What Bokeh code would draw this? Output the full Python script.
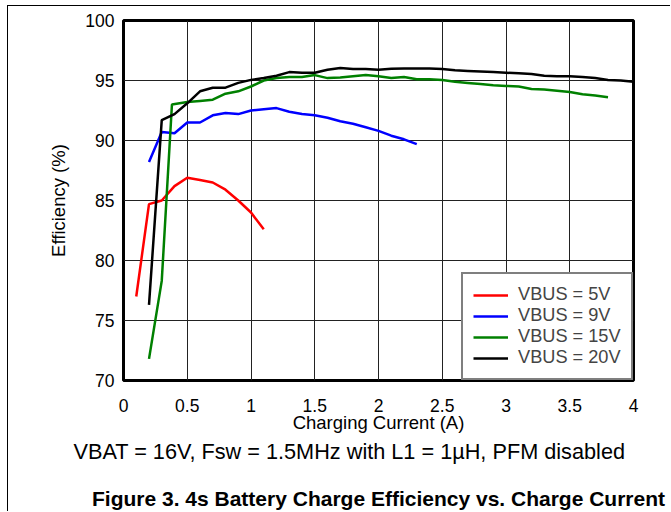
from bokeh.plotting import figure
from bokeh.models import (FixedTicker, NumeralTickFormatter, Legend, LegendItem,
                          Title, LinearAxis)
from bokeh.embed import file_html
from bokeh.resources import INLINE

# ---- data ----
x_5v = [0.1, 0.2, 0.3, 0.4, 0.5, 0.6, 0.7, 0.8, 0.9, 1.0, 1.1]
y_5v = [77.0, 84.7, 85.0, 86.2, 86.9, 86.7, 86.5, 85.9, 85.0, 84.0, 82.6]

x_9v = [0.2, 0.3, 0.4, 0.5, 0.6, 0.7, 0.8, 0.9, 1.0, 1.1, 1.2, 1.3, 1.4, 1.5,
        1.6, 1.7, 1.8, 1.9, 2.0, 2.1, 2.2, 2.3]
y_9v = [88.2, 90.7, 90.6, 91.5, 91.5, 92.1, 92.3, 92.2, 92.5, 92.6, 92.7, 92.4,
        92.2, 92.1, 91.9, 91.6, 91.4, 91.1, 90.8, 90.4, 90.1, 89.7]

x_15v = [0.2, 0.3, 0.38, 0.5, 0.6, 0.7, 0.8, 0.9, 1.0, 1.1, 1.2, 1.3, 1.4, 1.5,
         1.6, 1.7, 1.8, 1.9, 2.0, 2.1, 2.2, 2.3, 2.4, 2.5, 2.6, 2.7, 2.8, 2.9,
         3.0, 3.1, 3.2, 3.3, 3.4, 3.5, 3.6, 3.7, 3.8]
y_15v = [71.8, 78.3, 93.0, 93.2, 93.3, 93.4, 93.9, 94.1, 94.5, 95.0, 95.2, 95.3,
         95.3, 95.45, 95.2, 95.25, 95.35, 95.45, 95.35, 95.2, 95.3, 95.1, 95.1,
         95.05, 94.9, 94.8, 94.7, 94.6, 94.55, 94.5, 94.3, 94.25, 94.15, 94.05,
         93.85, 93.75, 93.6]

x_20v = [0.2, 0.3, 0.4, 0.5, 0.6, 0.7, 0.8, 0.9, 1.0, 1.1, 1.2, 1.3, 1.4, 1.5,
         1.6, 1.7, 1.8, 1.9, 2.0, 2.1, 2.2, 2.3, 2.4, 2.5, 2.6, 2.7, 2.8, 2.9,
         3.0, 3.1, 3.2, 3.3, 3.4, 3.5, 3.6, 3.7, 3.8, 3.9, 4.0]
y_20v = [76.3, 91.7, 92.2, 93.1, 94.1, 94.4, 94.4, 94.8, 95.05, 95.2, 95.4, 95.7,
         95.65, 95.65, 95.9, 96.05, 95.95, 95.95, 95.9, 95.97, 96.0, 96.0, 96.0,
         95.95, 95.85, 95.8, 95.75, 95.7, 95.65, 95.6, 95.55, 95.4, 95.35, 95.35,
         95.3, 95.2, 95.05, 95.0, 94.9]

series_labels = ["VBUS = 5V", "VBUS = 9V", "VBUS = 15V", "VBUS = 20V"]
x_ticks = [0, 0.5, 1, 1.5, 2, 2.5, 3, 3.5, 4]
y_ticks = [70, 75, 80, 85, 90, 95, 100]
x_title = "Charging Current (A)"
y_title = "Efficiency (%)"
subtitle = "VBAT = 16V, Fsw = 1.5MHz with L1 = 1\u00b5H, PFM disabled"
caption = "Figure 3. 4s Battery Charge Efficiency vs. Charge Current"

FONT = "Liberation Sans"

p = figure(width=663, height=506, x_range=(0, 4), y_range=(70, 100),
           output_backend="svg", toolbar_location=None,
           min_border_left=115, min_border_right=38, min_border_top=14,
           min_border_bottom=131)
p.styles = {"margin-left": "7px", "margin-top": "5px",
            "border-left": "1px solid black", "border-top": "1px solid black"}

p.outline_line_color = "black"
p.outline_line_width = 3
p.background_fill_color = "white"
p.border_fill_color = "white"

for ax in (p.xaxis[0], p.yaxis[0]):
    ax.axis_line_color = None
    ax.major_tick_line_color = None
    ax.minor_tick_line_color = None
    ax.major_tick_out = 0
    ax.major_tick_in = 0
    ax.minor_tick_out = 0
    ax.minor_tick_in = 0
    ax.major_label_text_font = FONT
    ax.major_label_text_font_size = "17.5px"
    ax.major_label_text_color = "black"
    ax.axis_label_text_font = FONT
    ax.axis_label_text_font_size = "18.5px"
    ax.axis_label_text_font_style = "normal"
    ax.axis_label_text_color = "black"

p.xaxis.ticker = FixedTicker(ticks=x_ticks)
p.yaxis.ticker = FixedTicker(ticks=y_ticks)
p.xaxis.formatter = NumeralTickFormatter(format="0.[0]")
p.yaxis.formatter = NumeralTickFormatter(format="0")
p.xaxis.major_label_standoff = 18
p.yaxis.major_label_standoff = 9
p.xaxis.axis_label = x_title
p.yaxis.axis_label = y_title
p.xaxis.axis_label_standoff = -3
p.yaxis.axis_label_standoff = 13

p.xgrid.grid_line_color = "#222222"
p.ygrid.grid_line_color = "#222222"
p.xgrid.grid_line_width = 1
p.ygrid.grid_line_width = 1

colors = ["#ff0000", "#0000ff", "#008000", "#000000"]
data = [(x_5v, y_5v), (x_9v, y_9v), (x_15v, y_15v), (x_20v, y_20v)]
items = []
for (xs, ys), c, lab in zip(data, colors, series_labels):
    r = p.line(xs, ys, line_color=c, line_width=2.5)
    items.append(LegendItem(label=lab, renderers=[r]))

legend = Legend(items=items, location="bottom_right", margin=0, padding=10,
                spacing=0, glyph_width=35, glyph_height=20, label_height=20,
                label_width=103, label_standoff=10,
                label_text_font=FONT, label_text_font_size="18.2px",
                border_line_color="black", border_line_width=2,
                background_fill_color="white", background_fill_alpha=1)
p.add_layout(legend, "center")

t1 = Title(text=subtitle, align="left", offset=-50, standoff=2,
           text_font=FONT, text_font_size="21.7px", text_font_style="normal",
           text_color="black")
p.add_layout(t1, "below")

cap_axis = LinearAxis(ticker=FixedTicker(ticks=[]), axis_label=caption,
                      axis_line_color=None, major_tick_line_color=None,
                      minor_tick_line_color=None, major_tick_out=0,
                      major_tick_in=0, minor_tick_out=0, minor_tick_in=0,
                      major_label_standoff=0, major_label_text_font_size="0px",
                      axis_label_standoff=22, axis_label_text_font=FONT,
                      axis_label_text_font_size="21px",
                      axis_label_text_font_style="bold",
                      axis_label_text_color="black")
p.add_layout(cap_axis, "below")

open("out.html", "w").write(file_html(p, INLINE))
